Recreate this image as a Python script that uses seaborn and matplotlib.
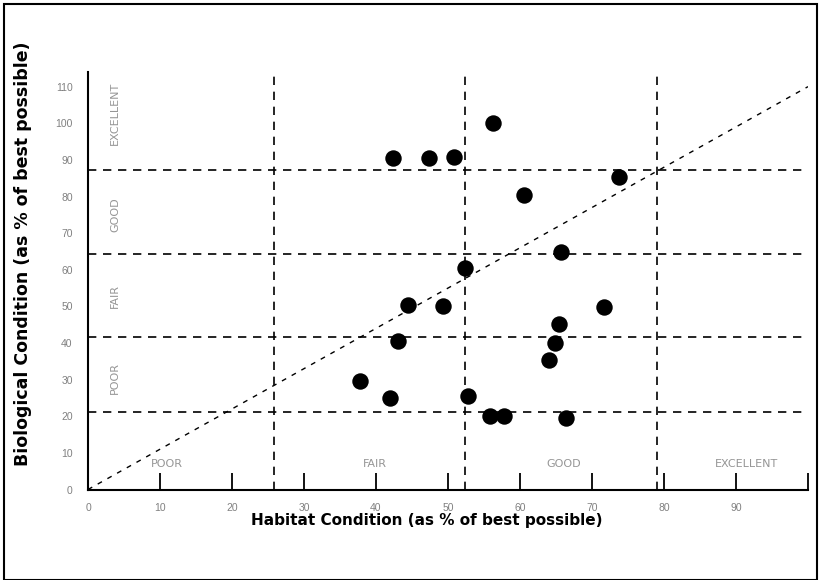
import matplotlib
matplotlib.use("Agg")
import matplotlib.pyplot as plt
import seaborn as sns
import pandas as pd
from matplotlib.patches import Rectangle

# Site scores: habitat vs. biological condition (% of best possible)
habitat = [56.3, 42.4, 47.4, 50.8, 73.8, 60.5, 65.7, 52.4, 44.4, 49.3, 71.7,
           65.4, 43.1, 64.8, 64.0, 37.8, 42.0, 52.8, 55.8, 57.8, 66.4]
biological = [100.2, 90.4, 90.4, 90.7, 85.4, 80.4, 64.8, 60.4, 50.3, 50.1, 49.9,
              45.1, 40.5, 39.9, 35.3, 29.7, 24.9, 25.4, 20.2, 20.2, 19.5]

# Condition class boundaries on each axis
habitat_breaks = [25.9, 52.4, 79.0]
bio_breaks = [21.1, 41.6, 64.4, 87.2]
# Reference line y = 1.1 x
ref_x = [0, 100]
ref_y = [0, 110]

class_names = ["POOR", "FAIR", "GOOD", "EXCELLENT"]
habitat_label_x = [11.0, 39.9, 66.1, 91.5]
bio_label_y = [30.5, 52.7, 75.0, 102.7]

x_ticks = [0, 10, 20, 30, 40, 50, 60, 70, 80, 90, 100]
x_ticklabels = ["0", "10", "20", "30", "40", "50", "60", "70", "80", "90", ""]
y_ticks = [0, 10, 20, 30, 40, 50, 60, 70, 80, 90, 100, 110]
y_ticklabels = ["0", "10", "20", "30", "40", "50", "60", "70", "80", "90", "100", "110"]

df = pd.DataFrame({"habitat": habitat, "biological": biological})

sns.set_theme(style="white")
plt.rcParams["font.family"] = ["Liberation Sans", "DejaVu Sans"]

fig = plt.figure(figsize=(8.19, 5.80), dpi=100)
ax = fig.add_axes([88 / 819, 1 - 489.5 / 580, 720 / 819, (489.5 - 72) / 580])

# Class boundaries
for xb in habitat_breaks:
    ax.axvline(xb, color="black", lw=1.2, ls=(0, (5, 4)), zorder=1)
for yb in bio_breaks:
    ax.axhline(yb, color="black", lw=1.2, ls=(0, (5, 4)), zorder=1)

# 1.1 : 1 reference line
sns.lineplot(x=ref_x, y=ref_y, ax=ax, color="black", lw=1.0,
             linestyle=(0, (3.5, 4.5)), zorder=2)

sns.scatterplot(data=df, x="habitat", y="biological", ax=ax, color="black",
                s=140, edgecolor="black", linewidth=0, zorder=3)

ax.set_xlim(0, 100)
ax.set_ylim(0, 114)
ax.set_xticks(x_ticks)
ax.set_xticklabels(x_ticklabels)
ax.set_yticks(y_ticks)
ax.set_yticklabels(y_ticklabels)
ax.tick_params(axis="x", direction="in", length=12, width=1.3, color="black",
               labelsize=7.5, labelcolor="#808080", pad=10, bottom=True)
ax.tick_params(axis="y", length=0, labelsize=7.5, labelcolor="#808080", pad=11)

for side in ["top", "right"]:
    ax.spines[side].set_visible(False)
for side in ["left", "bottom"]:
    ax.spines[side].set_color("black")
    ax.spines[side].set_linewidth(1.5)

for name, xv in zip(class_names, habitat_label_x):
    ax.text(xv, 7.0, name, ha="center", va="center", fontsize=8,
            color="#959595", family="DejaVu Sans")
for name, yv in zip(class_names, bio_label_y):
    ax.text(3.75, yv, name, ha="center", va="center", fontsize=8,
            color="#959595", rotation=90, family="DejaVu Sans")

ax.set_xlabel("")
ax.set_ylabel("")
fig.text(427 / 819, 1 - 521 / 580, "Habitat Condition (as % of best possible)",
         ha="center", va="center", fontsize=11, fontweight="bold",
         family="DejaVu Sans", color="black")
fig.text(23 / 819, 1 - 254 / 580, "Biological Condition (as % of best possible)",
         ha="center", va="center", fontsize=12.5, fontweight="bold", rotation=90,
         family="DejaVu Sans", color="black")

# Frame around the whole figure
fig.patches.append(Rectangle((4 / 819, 0), 813 / 819, 1 - 4 / 580,
                             transform=fig.transFigure, fill=False,
                             edgecolor="black", lw=1.5))

fig.savefig("out.png", dpi=100)
